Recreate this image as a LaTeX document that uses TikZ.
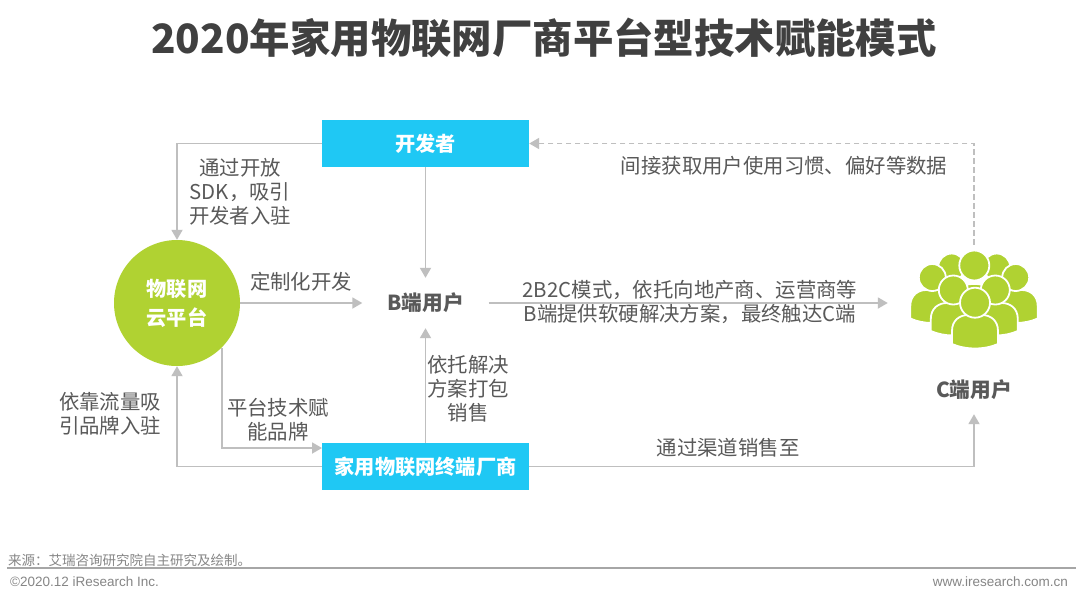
\documentclass[tikz,border=0pt]{standalone}
\usepackage{fontspec}
\setmainfont{Noto Sans CJK SC}
\newfontfamily\latinfoot{Liberation Sans}
\usetikzlibrary{arrows.meta,calc}
\definecolor{txt}{HTML}{595959}
\definecolor{titlec}{HTML}{404040}
\definecolor{conn}{HTML}{BFBFBF}
\definecolor{cyanbox}{HTML}{1FC8F4}
\definecolor{leaf}{HTML}{B0D232}
\newcommand{\fs}[2]{\fontsize{#1}{#2}\selectfont}
\tikzset{
  x=1pt,y=-1pt,
  lbl/.style={text=txt,align=center,inner sep=0pt,font=\fs{20.4}{24}},
  hdr/.style={text=txt,align=center,inner sep=0pt,font=\fs{20.7}{24}\bfseries},
  boxn/.style={fill=cyanbox,text=white,minimum width=207pt,minimum height=47pt,inner sep=0pt,font=\fs{20.2}{24}\bfseries},
  conl/.style={draw=conn,line width=1.8pt,-{Triangle[length=10pt,width=11pt,fill=conn]}},
  dashl/.style={conl,dash pattern=on 5.5pt off 3.5pt},
  foot/.style={inner sep=0pt,text=gray!95!white},
  persona/.style={fill=leaf,draw=white,line width=1.8pt}
}
\newcommand{\person}[6]{% cx headcy r halfw top bottom
  \path[persona] ({#1-#4},{#6-4}) -- ({#1-#4},{#5+16})
     .. controls ({#1-#4},{#5+5}) and ({#1-#4+8},{#5}) .. ({#1-#4+16},{#5})
     -- ({#1+#4-16},{#5})
     .. controls ({#1+#4-8},{#5}) and ({#1+#4},{#5+5}) .. ({#1+#4},{#5+16})
     -- ({#1+#4},{#6-4})
     .. controls ({#1+#4*0.4},{#6+2}) and ({#1-#4*0.4},{#6+2}) .. ({#1-#4},{#6-4}) -- cycle;
  \path[persona] (#1,#2) circle (#3);
}
\begin{document}
\begin{tikzpicture}
\path[use as bounding box,fill=white] (0,0) rectangle (1080,603);

\node[inner sep=0pt,text=titlec,font=\fs{40.4}{48}\bfseries] (title) at (544,38) {2020年家用物联网厂商平台型技术赋能模式};

\node[boxn] (dev) at (425.5,143.5) {开发者};
\node[boxn] (maker) at (425.5,466.5) {家用物联网终端厂商};
\node[circle,fill=leaf,text=white,minimum size=126pt,inner sep=0pt,align=center,font=\fs{20.2}{29}\bfseries] (cloud) at (177,303) {物联网\\云平台};
\node[hdr,minimum width=126pt,minimum height=50pt] (buser) at (425.5,303) {B端用户};
\node[hdr,minimum width=80pt,minimum height=48pt] (cuser) at (974,390) {C端用户};
\node[minimum width=172pt,minimum height=116pt,inner sep=0pt] (crowd) at (974,303) {};
\coordinate (mk) at (322,448);

% crowd icon
\person{951.7}{267}{13.5}{16}{284}{312}
\person{996.7}{267}{13.5}{16}{284}{312}
\person{974.3}{265.5}{15}{18}{284}{312}
\person{932.3}{277.5}{13.5}{22}{290}{322.5}
\person{1015.7}{277.5}{13.5}{22}{290}{322.5}
\person{953.3}{290}{14.5}{22.5}{303}{335}
\person{995.3}{290}{14.5}{22.5}{303}{335}
\person{975}{302.7}{15}{23}{315}{348}

% connectors
\draw[conl] (dev.west) -| (cloud.north);
\draw[conl] (maker.west) -| (cloud.south);
\draw[conl] (cloud.-45) -- (cloud.-45 |- mk) -- (mk);
\draw[conl] (cloud.east) -- (buser.west);
\draw[conl] (dev.south) -- (buser.north);
\draw[conl] (maker.north) -- (buser.south);
\draw[conl] (buser.east) -- (crowd.west);
\draw[conl] (maker.east) -| (cuser.south);
\draw[dashl] (crowd.north) |- (dev.east);

% labels
\node[lbl] (l1) at (240,192) {通过开放\\SDK，吸引\\开发者入驻};
\node[lbl] (l2) at (301,282) {定制化开发};
\node[lbl] (l3) at (468,389) {依托解决\\方案打包\\销售};
\node[lbl] (l4) at (278,420) {平台技术赋\\能品牌};
\node[lbl] (l5) at (110,414) {依靠流量吸\\引品牌入驻};
\node[lbl] (l6) at (690,302) {2B2C模式，依托向地产商、运营商等\\B端提供软硬解决方案，最终触达C端};
\node[lbl] (l7) at (728,448) {通过渠道销售至};
\node[lbl] (l8) at (784,166) {间接获取用户使用习惯、偏好等数据};

% footer
\node[foot,anchor=west,font=\fs{13.5}{16}] (src) at (8,560.5) {来源：艾瑞咨询研究院自主研究及绘制。};
\coordinate (fl) at (7,568);
\coordinate (fr) at (1076,568);
\draw[draw=gray!70!white,line width=1.6pt] (fl) -- (fr);
\node[foot,anchor=west,font=\latinfoot\fs{13.5}{16}] (copy) at (10,582) {©2020.12 iResearch Inc.};
\node[foot,anchor=east,font=\latinfoot\fs{13.5}{16}] (www) at (1068,582) {www.iresearch.com.cn};
\end{tikzpicture}
\end{document}
